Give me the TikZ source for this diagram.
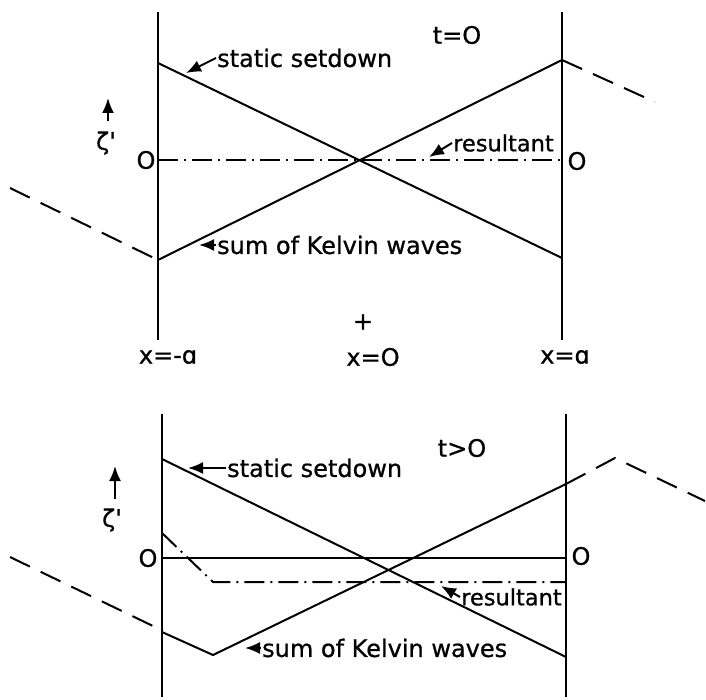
\documentclass[tikz,border=0pt]{standalone}
\usepackage{fontspec}
\newfontfamily\lettering[FakeBold=0.8]{DejaVu Sans}
\usetikzlibrary{positioning,arrows.meta}

\begin{document}
\begin{tikzpicture}[
  x=1pt, y=-1pt,
  wall/.style={line width=2.7pt},
  prof/.style={line width=2pt},
  outside/.style={line width=2pt, dash pattern=on 22pt off 12pt},
  result/.style={line width=2pt, dash pattern=on 20pt off 6pt on 2pt off 6pt},
  lbl/.style={font=\lettering\fontsize{24}{28}\selectfont, inner sep=1pt},
  small/.style={font=\lettering\fontsize{22.5}{26}\selectfont},
  ptr/.style={line width=2pt, -{Latex[length=15pt,width=12pt]}}
]
\useasboundingbox (0,0) rectangle (706,700);

% t = 0
\coordinate (wlA) at (158,12);  \coordinate (wlB) at (158,340);
\coordinate (wrA) at (562,12);  \coordinate (wrB) at (562,340);
\coordinate (ssL) at (158,63);  \coordinate (ssR) at (562,258);
\coordinate (kwL) at (158,260); \coordinate (kwR) at (562,60);
\coordinate (reL) at (158,160); \coordinate (reR) at (562,160);
\coordinate (exL) at (10,188);  \coordinate (exR) at (655,102);
\draw[wall] (wlA) -- (wlB);
\draw[wall] (wrA) -- (wrB);
\draw[prof] (ssL) -- (ssR);
\draw[prof] (kwL) -- (kwR);
\draw[result] (reL) -- (reR);
\draw[outside] (exL) -- (kwL);
\draw[outside] (kwR) -- (exR);

\node[lbl] (zeroL) at (146,160) {O};
\node[lbl] (zeroR) at (577,161) {O};
\node[lbl] (zeta) at (106,143) {ζ'};
\coordinate (zetaTip) at (108,98);
\draw[ptr] (108,121) -- (zetaTip);
\node[lbl] (time) at (457,35) {t=O};
\node[lbl, anchor=west] (ss) at (216,58) {static setdown};
\coordinate (ssTip) at (186,73);
\draw[ptr] (ss.west) -- (ssTip);
\node[lbl, small, anchor=west] (res) at (452,143) {resultant};
\coordinate (resTip) at (429,157);
\draw[ptr] (res.west) -- (resTip);
\node[lbl, anchor=west] (kw) at (216,245) {sum of Kelvin waves};
\coordinate (kwTip) at (199,245);
\draw[ptr] (kw.west) -- (kwTip);

\node[lbl] (orig) at (363,322) {+};
\node[lbl] (xl) at (168,357) {x=-ɑ};
\node[lbl] (xm) at (373,357) {x=O};
\node[lbl] (xr) at (565,357) {x=ɑ};

% t > 0
\coordinate (vlA) at (162,414); \coordinate (vlB) at (162,697);
\coordinate (vrA) at (566,414); \coordinate (vrB) at (566,697);
\coordinate (tsL) at (162,459); \coordinate (tsR) at (566,657);
\coordinate (tkL) at (162,632); \coordinate (tkM) at (213,655); \coordinate (tkR) at (566,484);
\coordinate (trL) at (162,533); \coordinate (trM) at (213,582); \coordinate (trR) at (566,582);
\coordinate (zlL) at (162,558); \coordinate (zlR) at (566,558);
\coordinate (txL) at (10,557);  \coordinate (txE) at (155,627);
\coordinate (txP) at (615,458); \coordinate (txR) at (705,501);
\draw[wall] (vlA) -- (vlB);
\draw[wall] (vrA) -- (vrB);
\draw[line width=1.6pt] (zlL) -- (zlR);
\draw[prof] (tsL) -- (tsR);
\draw[prof] (tkL) -- (tkM) -- (tkR);
\draw[result] (trL) -- (trM) -- (trR);
\draw[outside] (txL) -- (txE);
\draw[outside] (tkR) -- (txP) -- (txR);

\node[lbl] (zeroL2) at (148,558) {O};
\node[lbl] (zeroR2) at (581,556) {O};
\node[lbl] (zeta2) at (112,520) {ζ'};
\coordinate (zetaTip2) at (115,466);
\draw[ptr] (115,499) -- (zetaTip2);
\node[lbl] (time2) at (462,448) {t>O};
\node[lbl, anchor=west] (ss2) at (226,468) {static setdown};
\coordinate (ssTip2) at (188,468);
\draw[ptr] (ss2.west) -- (ssTip2);
\node[lbl, small, anchor=west] (res2) at (460,597) {resultant};
\coordinate (resTip2) at (441,586);
\draw[ptr] (res2.west) -- (resTip2);
\node[lbl, anchor=west] (kw2) at (261,648) {sum of Kelvin waves};
\coordinate (kwTip2) at (245,648);
\draw[ptr] (kw2.west) -- (kwTip2);
\end{tikzpicture}
\end{document}
